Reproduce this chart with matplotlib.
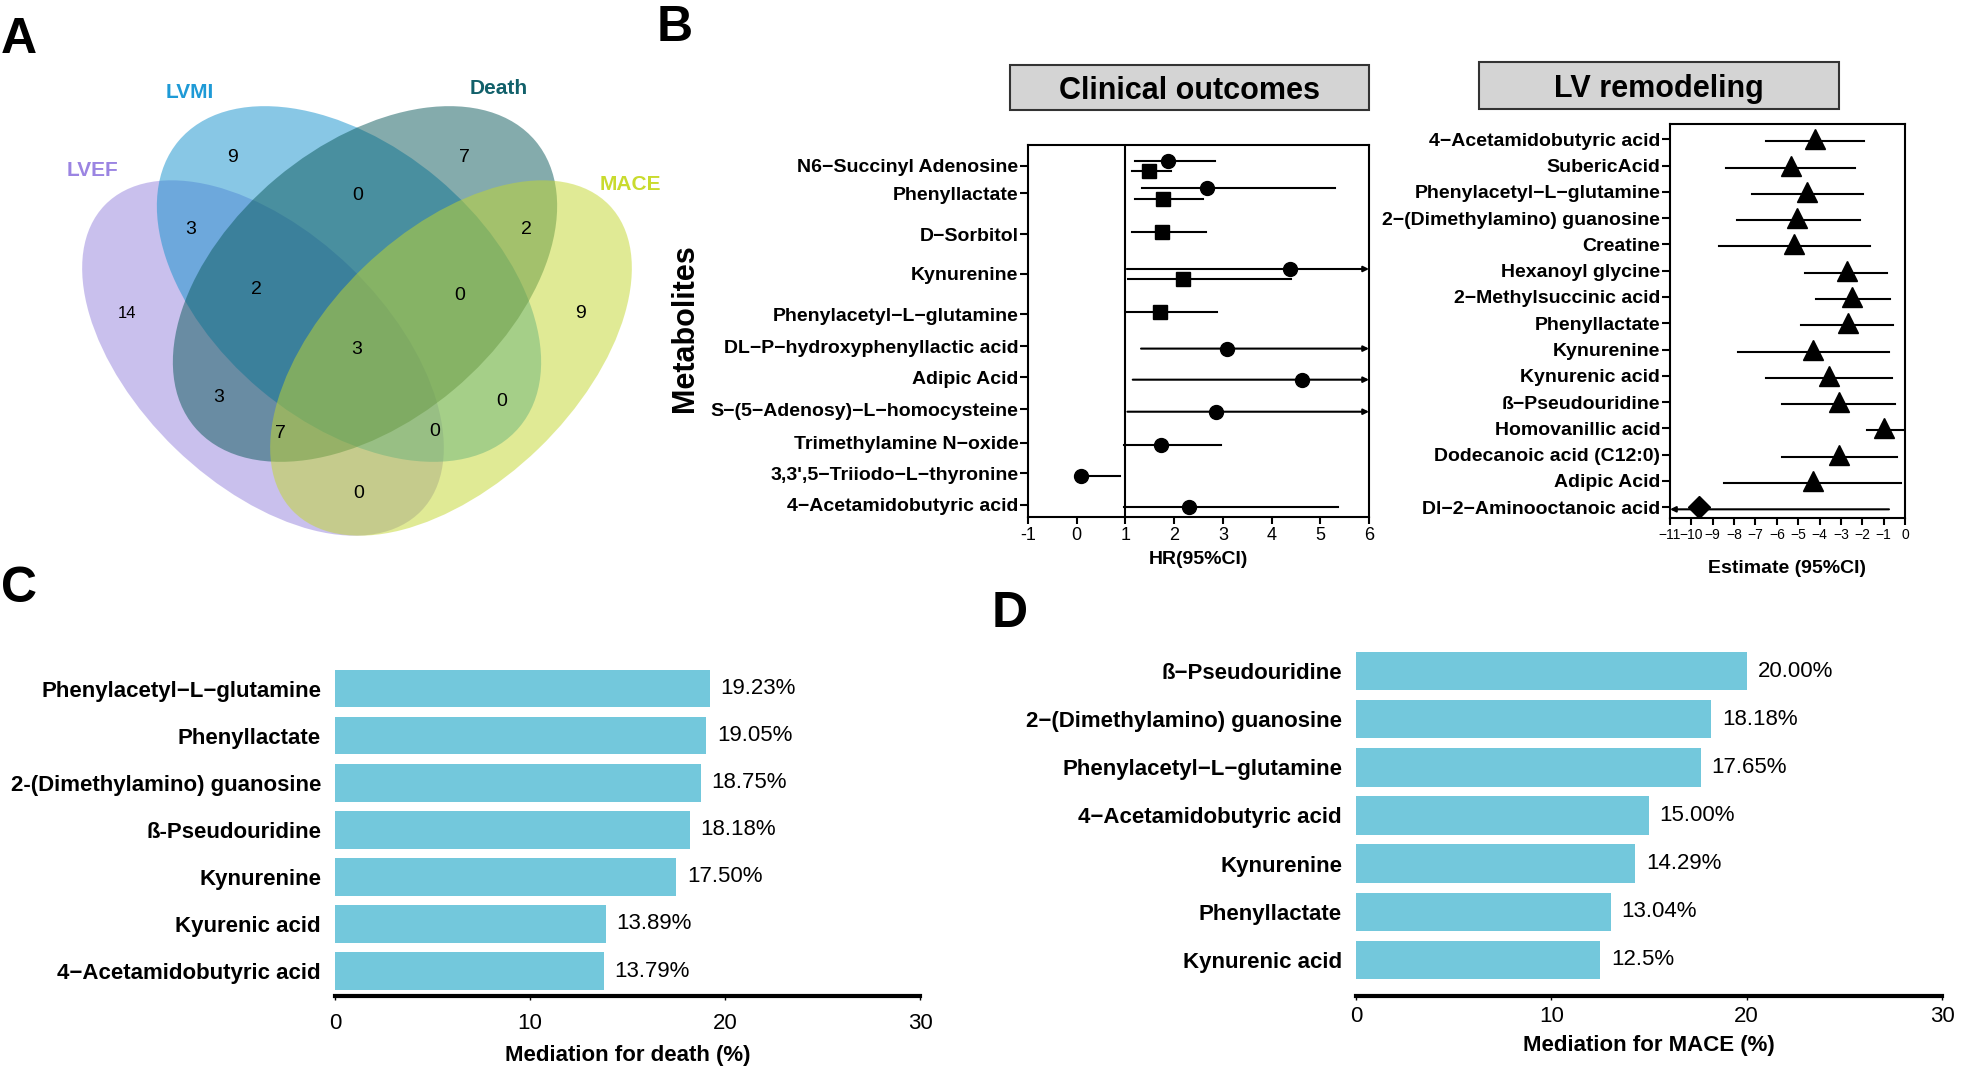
import numpy as np
import matplotlib
matplotlib.use("Agg")
import matplotlib.pyplot as plt
from matplotlib.patches import Ellipse, Rectangle

plt.rcParams['font.family'] = ['Liberation Sans', 'DejaVu Sans']

W, H = 1961, 1070

# ---------------- data ----------------
# A: venn
venn_sets = ["LVEF", "LVMI", "Death", "MACE"]
venn_colors = ["#9583DD", "#1391CD", "#0B595B", "#C3D72D"]
venn_label_colors = ["#9B84E2", "#1E9AD6", "#11606A", "#C9DB2E"]
venn_regions = ["LVMI", "Death", "LVEF", "MACE", "LVEF&LVMI", "LVMI&Death",
                "Death&MACE", "LVEF&LVMI&Death", "LVMI&Death&MACE", "all",
                "LVEF&Death", "LVMI&MACE", "LVEF&Death&MACE", "LVEF&LVMI&MACE",
                "LVEF&MACE"]
venn_counts = [9, 7, 14, 9, 3, 0, 2, 2, 0, 3, 3, 0, 7, 0, 0]

# B: clinical outcomes (circle = death, square = MACE)
clin_names = ["N6\u2212Succinyl Adenosine", "Phenyllactate", "D\u2212Sorbitol", "Kynurenine",
              "Phenylacetyl\u2212L\u2212glutamine", "DL\u2212P\u2212hydroxyphenyllactic acid",
              "Adipic Acid", "S\u2212(5\u2212Adenosy)\u2212L\u2212homocysteine",
              "Trimethylamine N\u2212oxide", "3,3',5\u2212Triiodo\u2212L\u2212thyronine",
              "4\u2212Acetamidobutyric acid"]
nan = np.nan
death_hr = [1.87, 2.68, nan, 4.38, nan, 3.08, 4.62, 2.85, 1.73, 0.09, 2.31]
death_lo = [1.20, 1.35, nan, 1.03, nan, 1.32, 1.15, 1.04, 0.98, 0.02, 0.98]
death_hi = [2.84, 5.31, nan, 7.0, nan, 7.0, 7.0, 7.0, 2.97, 0.89, 5.37]
mace_hr = [1.49, 1.77, 1.75, 2.18, 1.71, nan, nan, nan, nan, nan, nan]
mace_lo = [1.14, 1.20, 1.14, 1.06, 1.02, nan, nan, nan, nan, nan, nan]
mace_hi = [1.94, 2.60, 2.65, 4.40, 2.87, nan, nan, nan, nan, nan, nan]

# B: LV remodeling
lv_names = ["4\u2212Acetamidobutyric acid", "SubericAcid", "Phenylacetyl\u2212L\u2212glutamine",
            "2\u2212(Dimethylamino) guanosine", "Creatine", "Hexanoyl glycine",
            "2\u2212Methylsuccinic acid", "Phenyllactate", "Kynurenine", "Kynurenic acid",
            "\u00df\u2212Pseudouridine", "Homovanillic acid", "Dodecanoic acid (C12:0)",
            "Adipic Acid", "Dl\u22122\u2212Aminooctanoic acid"]
lv_est = [-4.21, -5.35, -4.57, -5.07, -5.18, -2.73, -2.47, -2.68, -4.29, -3.56, -3.11, -0.97, -3.07, -4.32, -9.63]
lv_lo = [-6.52, -8.40, -7.15, -7.88, -8.71, -4.70, -4.17, -4.85, -7.80, -6.52, -5.76, -1.80, -5.74, -8.47, -12.0]
lv_hi = [-1.90, -2.34, -1.97, -2.09, -1.64, -0.86, -0.72, -0.58, -0.73, -0.61, -0.45, -0.08, -0.39, -0.17, -0.75]

# C: mediation for death
c_names = ["Phenylacetyl\u2212L\u2212glutamine", "Phenyllactate", "2-(Dimethylamino) guanosine",
           "\u00df-Pseudouridine", "Kynurenine", "Kyurenic acid", "4\u2212Acetamidobutyric acid"]
c_vals = [19.23, 19.05, 18.75, 18.18, 17.50, 13.89, 13.79]
c_labels = ["19.23%", "19.05%", "18.75%", "18.18%", "17.50%", "13.89%", "13.79%"]

# D: mediation for MACE
d_names = ["\u00df\u2212Pseudouridine", "2\u2212(Dimethylamino) guanosine",
           "Phenylacetyl\u2212L\u2212glutamine", "4\u2212Acetamidobutyric acid",
           "Kynurenine", "Phenyllactate", "Kynurenic acid"]
d_vals = [20.00, 18.18, 17.65, 15.00, 14.29, 13.04, 12.5]
d_labels = ["20.00%", "18.18%", "17.65%", "15.00%", "14.29%", "13.04%", "12.5%"]

bar_color = "#73C8DC"


def px_axes(fig, x0, y0, x1, y1):
    # axes from pixel box (top-left origin)
    return fig.add_axes([x0 / W, 1 - y1 / H, (x1 - x0) / W, (y1 - y0) / H])


def draw_ci(ax, y, lo, hi, xmin, xmax):
    arrow = dict(arrowstyle='-|>', color='k', lw=1.5, mutation_scale=8, shrinkA=0, shrinkB=0)
    if hi > xmax:
        ax.annotate('', xy=(xmax, y), xytext=(max(lo, xmin), y), arrowprops=arrow)
    elif lo < xmin:
        ax.annotate('', xy=(xmin, y), xytext=(min(hi, xmax), y), arrowprops=arrow)
    else:
        ax.plot([lo, hi], [y, y], color='k', lw=1.5, zorder=2)


fig = plt.figure(figsize=(W / 100, H / 100), dpi=100)

# ---------------- A: venn ----------------
axA = px_axes(fig, 0, 0, 700, 560)
axA.set_xlim(0, 700)
axA.set_ylim(560, 0)
axA.axis('off')
ell_geom = [((263, 358), 440, 252, 44), ((349, 284), 445, 276, 40),
            ((365, 284), 445, 276, -40), ((451, 358), 440, 252, -44)]
for (c, w, h, ang), col in zip(ell_geom, venn_colors):
    axA.add_patch(Ellipse(c, w, h, angle=ang, facecolor=col, alpha=0.5, edgecolor='none'))

region_pos = {"LVMI": (232, 157), "Death": (464, 157), "LVEF": (127, 314), "MACE": (580, 314),
              "LVEF&LVMI": (191, 229), "LVMI&Death": (358, 195), "Death&MACE": (526, 230),
              "LVEF&LVMI&Death": (256, 289), "LVMI&Death&MACE": (460, 296), "all": (357, 349),
              "LVEF&Death": (219, 397), "LVMI&MACE": (502, 401), "LVEF&Death&MACE": (280, 434),
              "LVEF&LVMI&MACE": (435, 432), "LVEF&MACE": (359, 493)}
for reg, n in zip(venn_regions, venn_counts):
    x, y = region_pos[reg]
    axA.text(x, y, str(n), ha='center', va='center', fontsize=12 if n >= 10 else 14)

set_label_pos = [(92, 171), (190, 92), (499, 89), (630, 184)]
for name, col, (x, y) in zip(venn_sets, venn_label_colors, set_label_pos):
    axA.text(x, y, name, ha='center', va='center', fontsize=15, fontweight='bold', color=col)

# ---------------- B: clinical outcomes ----------------
axB1 = px_axes(fig, 1028, 145, 1369, 517)
clin_rows = [0, 0.87, 2.16, 3.41, 4.69, 5.69, 6.67, 7.68, 8.74, 9.70, 10.70]
for i, y in enumerate(clin_rows):
    has_d = not np.isnan(death_hr[i])
    has_m = not np.isnan(mace_hr[i])
    if has_d:
        yy = y - 0.15 if has_m else y + 0.08
        draw_ci(axB1, yy, death_lo[i], death_hi[i], -1, 6)
        axB1.plot(death_hr[i], yy, 'o', color='k', ms=10, zorder=3)
    if has_m:
        yy = y + 0.17 if has_d else y - 0.06
        draw_ci(axB1, yy, mace_lo[i], mace_hi[i], -1, 6)
        axB1.plot(mace_hr[i], yy, 's', color='k', ms=9.5, zorder=3)
axB1.axvline(1, color='k', lw=1.5, zorder=1)
axB1.set_xlim(-1, 6)
axB1.set_ylim(11.08, -0.65)
axB1.set_xticks(range(-1, 7))
axB1.set_xticklabels([str(v) for v in range(-1, 7)])
axB1.set_yticks(clin_rows)
axB1.set_yticklabels(clin_names, fontsize=14, fontweight='bold')
axB1.tick_params(axis='x', labelsize=13, length=5, width=1.5, pad=2)
axB1.tick_params(axis='y', length=6, width=1.5, pad=1)
for s in axB1.spines.values():
    s.set_linewidth(1.5)
axB1.set_xlabel("HR(95%CI)", fontsize=14, fontweight='bold', labelpad=5)

# ---------------- B: LV remodeling ----------------
axB2 = px_axes(fig, 1670, 124, 1905, 518)
lv_rows = np.arange(len(lv_names))
lv_markers = ['^'] * (len(lv_names) - 1) + ['D']
for y, e, lo, hi, m in zip(lv_rows, lv_est, lv_lo, lv_hi, lv_markers):
    draw_ci(axB2, y + 0.08, lo, hi, -11, 0)
    axB2.plot(e, y, m, color='k', ms=14 if m == '^' else 11, zorder=3)
axB2.set_xlim(-11, 0)
axB2.set_ylim(14.41, -0.58)
axB2.set_xticks(range(-11, 1))
axB2.set_yticks(lv_rows)
axB2.set_yticklabels(lv_names, fontsize=14, fontweight='bold')
axB2.tick_params(axis='x', labelsize=10, length=5, width=1.5, pad=2)
axB2.tick_params(axis='y', length=6, width=1.5, pad=1)
for s in axB2.spines.values():
    s.set_linewidth(1.5)
axB2.set_xlabel("Estimate (95%CI)", fontsize=14, fontweight='bold', labelpad=13)

# title boxes
for (x0, y0, x1, y1), txt in [((1010, 65, 1369, 110), "Clinical outcomes"),
                              ((1479, 62, 1839, 109), "LV remodeling")]:
    fig.add_artist(Rectangle((x0 / W, 1 - y1 / H), (x1 - x0) / W, (y1 - y0) / H,
                             transform=fig.transFigure, facecolor='#D4D4D4',
                             edgecolor='#333333', lw=1.5))
    fig.text((x0 + x1) / 2 / W, 1 - (y0 + y1) / 2 / H, txt, ha='center', va='center_baseline',
             fontsize=22, fontweight='bold')

fig.text(685 / W, 1 - 328 / H, "Metabolites", rotation=90, ha='center', va='center',
         fontsize=22, fontweight='bold')


# ---------------- C & D: bars ----------------
def bar_panel(ax, names, vals, labels, xlabel, ybottom, tickpad, labelpad):
    pos = np.arange(len(names))
    ax.barh(pos, vals, height=0.8, color=bar_color)
    for p, v, lab in zip(pos, vals, labels):
        ax.text(v + 0.55, p, lab, va='center', ha='left', fontsize=16)
    ax.set_xlim(0, 30)
    ax.set_ylim(ybottom, -0.5)
    ax.set_xticks([0, 10, 20, 30])
    ax.set_yticks(pos)
    ax.set_yticklabels(names, fontsize=16, fontweight='bold')
    for s in ['top', 'right', 'left']:
        ax.spines[s].set_visible(False)
    ax.spines['bottom'].set_linewidth(3)
    ax.tick_params(axis='y', length=0, pad=10)
    ax.tick_params(axis='x', labelsize=16, length=3, width=1, pad=tickpad)
    ax.set_xlabel(xlabel, fontsize=16, fontweight='bold', labelpad=labelpad)


axC = px_axes(fig, 335, 665, 920, 996)
bar_panel(axC, c_names, c_vals, c_labels, "Mediation for death (%)", 6.53, 9, 8)
axD = px_axes(fig, 1356, 647, 1942, 996)
bar_panel(axD, d_names, d_vals, d_labels, "Mediation for MACE (%)", 6.75, 4, 6)

# panel letters
for lab, (x, y) in zip("ABCD", [(19, 40), (675, 28), (19, 589), (1010, 614)]):
    fig.text(x / W, 1 - y / H, lab, ha='center', va='center', fontsize=36, fontweight='bold')

fig.savefig("out.png", dpi=100)
